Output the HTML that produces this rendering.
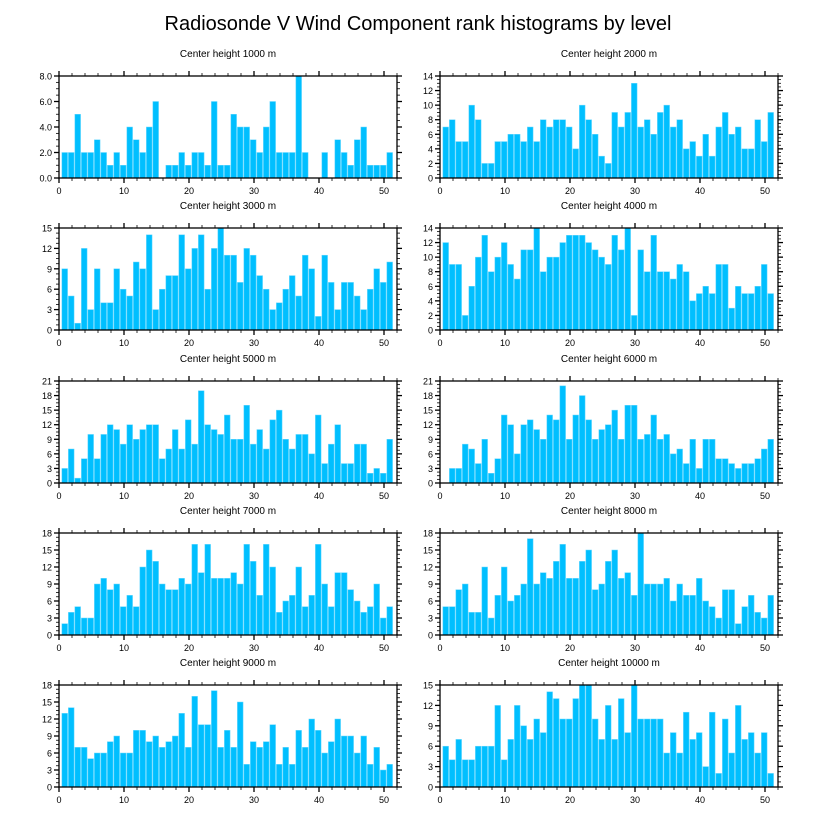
<!DOCTYPE html>
<html><head><meta charset="utf-8"><style>
body{margin:0;background:#fff;}
svg{display:block;font-family:"Liberation Sans",sans-serif;}
</style></head><body>
<svg id="chart" width="818" height="824" viewBox="0 0 818 824">
<text x="418" y="30" font-size="20" text-anchor="middle" fill="#000">Radiosonde V Wind Component rank histograms by level</text>
</svg>
<script>
const levels = ["1000","2000","3000","4000","5000","6000","7000","8000","9000","10000"];
const yMaxes = [8,14,15,14,21,21,18,18,18,15];
const ySteps = [2,2,3,2,3,3,3,3,3,3];
const yDecimals = [1,0,0,0,0,0,0,0,0,0];
const xTicks = [0,10,20,30,40,50];
const h1000 = [2,2,5,2,2,3,2,1,2,1,4,3,2,4,6,0,1,1,2,1,2,2,1,6,1,1,5,4,4,3,2,4,6,2,2,2,8,2,0,0,2,0,3,2,1,3,4,1,1,1,2];
const h2000 = [7,8,5,5,10,8,2,2,5,5,6,6,5,7,5,8,7,8,8,7,4,10,8,6,3,2,9,7,9,13,7,8,6,9,10,7,8,4,5,3,6,3,7,9,6,7,4,4,8,5,9];
const h3000 = [9,5,1,12,3,9,4,4,9,6,5,10,9,14,3,6,8,8,14,9,12,14,6,12,15,11,11,7,12,11,8,6,3,4,6,8,5,11,9,2,11,7,3,7,7,5,3,6,9,7,10];
const h4000 = [12,9,9,2,6,10,13,8,10,12,9,7,11,11,14,8,10,10,12,13,13,13,12,11,10,9,13,11,14,2,11,8,13,8,8,7,9,8,4,5,6,5,9,9,3,6,5,5,6,9,5];
const h5000 = [3,7,1,5,10,5,10,12,11,8,12,9,11,12,12,5,7,11,7,13,8,19,12,11,10,14,9,9,16,8,11,7,13,15,9,7,10,10,6,14,4,8,12,4,4,8,8,2,3,2,9];
const h6000 = [0,3,3,8,7,4,9,2,5,14,12,6,12,13,11,9,14,13,20,9,14,18,13,9,11,12,15,9,16,16,9,10,14,9,10,6,7,4,9,3,9,9,5,5,4,3,4,4,5,7,9];
const h7000 = [2,4,5,3,3,9,10,8,9,5,7,5,12,15,13,9,8,8,10,9,16,11,16,10,10,10,11,9,16,13,7,16,12,4,6,7,12,5,7,16,9,5,11,11,8,6,4,5,9,3,5];
const h8000 = [5,5,8,9,4,4,12,3,7,12,6,7,9,17,9,11,10,13,16,10,10,13,15,8,9,13,15,10,11,7,18,9,9,9,10,6,9,7,7,10,6,5,3,8,8,2,5,7,4,3,7];
const h9000 = [13,14,7,7,5,6,6,8,9,6,6,10,10,8,9,7,8,9,13,7,16,11,11,17,7,10,7,15,4,8,7,8,11,4,7,4,10,7,12,10,6,8,12,9,9,6,9,4,7,3,4];
const h10000 = [6,4,7,4,4,6,6,6,12,4,7,12,9,7,10,8,14,13,10,10,13,15,15,10,7,12,7,13,8,15,10,10,10,10,5,8,5,11,7,8,3,11,2,10,5,12,7,8,5,8,2];
const series = [h1000,h2000,h3000,h4000,h5000,h6000,h7000,h8000,h9000,h10000];

const NS = "http://www.w3.org/2000/svg";
const svg = document.getElementById('chart');
function mk(tag, attrs, parent){const e=document.createElementNS(NS,tag);for(const k in attrs)e.setAttribute(k,attrs[k]);(parent||svg).appendChild(e);return e;}
const lefts=[59,440], tops=[76,228,381,533,685], W=338, H=102, XMAX=52;

series.forEach((vals,p)=>{
  const L=lefts[p%2], T=tops[Math.floor(p/2)], ymax=yMaxes[p], step=ySteps[p];
  const g=mk('g',{});
  
  
  const xs=v=>L+v*W/XMAX, ys=v=>T+H-v*H/ymax;
  const st=mk('text',{x:L+W/2,y:T-19,'font-size':10,'text-anchor':'middle'},g);
  
  
  st.textContent='Center height '+levels[p]+' m';
  vals.forEach((v,i)=>{
    const c=i+1-0.12, bw=0.88;
    if(v<=0) return;
    const r=mk('rect',{x:xs(c-bw/2),y:ys(v),width:xs(c+bw/2)-xs(c-bw/2),height:ys(0)-ys(v),fill:'#00bfff',stroke:'#6fd9ff','stroke-width':0.5},g);
    
    
  });
  const fr=mk('rect',{x:L,y:T,width:W,height:H,fill:'none',stroke:'#000','stroke-width':1.3},g);
  
  
  // x ticks
  for(let v=0;v<=XMAX;v+=2){
    const major=v%10===0, len=major?5:3, x=xs(v);
    mk('line',{x1:x,y1:T+H,x2:x,y2:T+H+len,stroke:'#000','stroke-width':major?1.3:0.8},g);
    mk('line',{x1:x,y1:T,x2:x,y2:T-len,stroke:'#000','stroke-width':major?1.3:0.8},g);
  }
  xTicks.forEach(v=>{
    const t=mk('text',{x:xs(v),y:T+H+16,'font-size':9,'text-anchor':'middle'},g);
    
    
    t.textContent=v;
  });
  // y ticks
  const minor=step/4;
  for(let v=0;v<=ymax+1e-9;v+=minor){
    const major=Math.abs(v/step-Math.round(v/step))<1e-6, len=major?5:3, y=ys(v);
    mk('line',{x1:L,y1:y,x2:L-len,y2:y,stroke:'#000','stroke-width':major?1.3:0.8},g);
    mk('line',{x1:L+W,y1:y,x2:L+W+len,y2:y,stroke:'#000','stroke-width':major?1.3:0.8},g);
  }
  for(let v=0;v<=ymax;v+=step){
    const t=mk('text',{x:L-7,y:ys(v)+3.5,'font-size':9,'text-anchor':'end'},g);
    
    
    t.textContent=v.toFixed(yDecimals[p]);
  }
});
</script>
</body></html>
